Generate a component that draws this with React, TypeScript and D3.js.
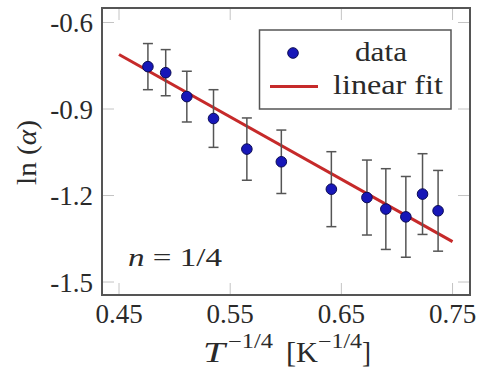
import React from "react";
import * as d3 from "d3";

const xValues = [0.476, 0.492, 0.511, 0.535, 0.565, 0.596, 0.641, 0.673, 0.690, 0.708, 0.723, 0.737];
const yValues = [-0.753, -0.774, -0.857, -0.933, -1.039, -1.083, -1.178, -1.207, -1.247, -1.274, -1.195, -1.253];
const yErrors = [0.080, 0.080, 0.088, 0.100, 0.108, 0.110, 0.130, 0.130, 0.140, 0.140, 0.140, 0.140];
const xTicks = [0.45, 0.55, 0.65, 0.75];
const yTicks = [-0.6, -0.9, -1.2, -1.5];
const fitSlope = -2.163;
const fitIntercept = 0.2625;
const fitRange = [0.45, 0.75];

const W = 479;
const H = 367;
const FONT = "'Liberation Serif', 'Times New Roman', serif";
const TXT = "#2a2a2a";

export default function App() {
  const x = d3.scaleLinear().domain([0.4347, 0.7657]).range([102, 470]);
  const y = d3.scaleLinear().domain([-1.545, -0.5497]).range([295, 8]);
  const [x0, x1] = x.range();
  const [yb, yt] = y.range();
  const tickLen = 12;
  const fit = d3
    .line<number>()
    .x((d) => x(d))
    .y((d) => y(fitSlope * d + fitIntercept));
  const fmtY = (v: number) => (v < 0 ? "-" : "") + Math.abs(v).toFixed(1);

  return (
    <svg
      width={W}
      height={H}
      style={{ position: "absolute", left: 0, top: 0, background: "#fff", fontFamily: FONT }}
      fontFamily={FONT}
    >
      <rect x={0} y={0} width={W} height={H} fill="#fff" />
      {/* ticks */}
      {xTicks.map((t) => (
        <g key={"xt" + t} stroke="#c4c4c4" strokeWidth={1}>
          <line x1={x(t)} x2={x(t)} y1={yb} y2={yb - tickLen} />
          <line x1={x(t)} x2={x(t)} y1={yt} y2={yt + tickLen} />
        </g>
      ))}
      {yTicks.map((t) => (
        <g key={"yt" + t} stroke="#c4c4c4" strokeWidth={1}>
          <line x1={x0} x2={x0 + tickLen} y1={y(t)} y2={y(t)} />
          <line x1={x1} x2={x1 - tickLen} y1={y(t)} y2={y(t)} />
        </g>
      ))}
      {/* fit line */}
      <path d={fit(fitRange) || ""} fill="none" stroke="#c62a2a" strokeWidth={3} />
      {/* error bars */}
      {xValues.map((xv, i) => {
        const cx = x(xv);
        const top = y(yValues[i] + yErrors[i]);
        const bot = y(yValues[i] - yErrors[i]);
        return (
          <g key={"e" + i} stroke="#555" strokeWidth={1.5}>
            <line x1={cx} x2={cx} y1={top} y2={bot} />
            <line x1={cx - 5} x2={cx + 5} y1={top} y2={top} />
            <line x1={cx - 5} x2={cx + 5} y1={bot} y2={bot} />
          </g>
        );
      })}
      {/* points */}
      {xValues.map((xv, i) => (
        <circle key={"p" + i} cx={x(xv)} cy={y(yValues[i])} r={5.3} fill="#1717b8" stroke="#0b0b55" strokeWidth={1} />
      ))}
      {/* frame */}
      <rect x={x0} y={yt} width={x1 - x0} height={yb - yt} fill="none" stroke="#555" strokeWidth={2} />
      {/* tick labels */}
      {xTicks.map((t) => (
        <text key={"xl" + t} x={x(t)} y={323} textAnchor="middle" fontSize={27} fill={TXT}>
          {t.toFixed(2)}
        </text>
      ))}
      {yTicks.map((t) => (
        <text key={"yl" + t} x={93} y={y(t) + 9.5} textAnchor="end" fontSize={27} fill={TXT}>
          {fmtY(t)}
        </text>
      ))}
      {/* y axis label */}
      <text
        transform="translate(36,152.5) rotate(-90)"
        textAnchor="middle"
        fontSize={27}
        fill={TXT}
        textLength={65}
        lengthAdjust="spacingAndGlyphs"
      >
        ln (<tspan fontStyle="italic">α</tspan>)
      </text>
      {/* x axis label */}
      <g fill={TXT}>
        <text x={203} y={362} fontSize={29} fontStyle="italic" textLength={22} lengthAdjust="spacingAndGlyphs">T</text>
        <text x={228} y={348} fontSize={20} textLength={45} lengthAdjust="spacingAndGlyphs">−1/4</text>
        <text x={286} y={362} fontSize={29} textLength={32} lengthAdjust="spacingAndGlyphs">[K</text>
        <text x={318} y={348} fontSize={20} textLength={44} lengthAdjust="spacingAndGlyphs">−1/4</text>
        <text x={362} y={362} fontSize={29} textLength={9} lengthAdjust="spacingAndGlyphs">]</text>
      </g>
      {/* n = 1/4 */}
      <text x={128} y={266} fontSize={26} fill={TXT} textLength={94} lengthAdjust="spacingAndGlyphs">
        <tspan fontStyle="italic">n</tspan> = 1/4
      </text>
      {/* legend */}
      <rect x={259.5} y={30} width={191.5} height={79} fill="#fff" stroke="#555" strokeWidth={1.5} />
      <circle cx={293} cy={53} r={5.3} fill="#1717b8" stroke="#0b0b55" strokeWidth={1} />
      <text x={355} y={61} fontSize={27} fill={TXT} textLength={52} lengthAdjust="spacingAndGlyphs">data</text>
      <line x1={270} x2={318} y1={86.5} y2={86.5} stroke="#c62a2a" strokeWidth={3} />
      <text x={333} y={94} fontSize={27} fill={TXT} textLength={110} lengthAdjust="spacingAndGlyphs">linear fit</text>
    </svg>
  );
}
